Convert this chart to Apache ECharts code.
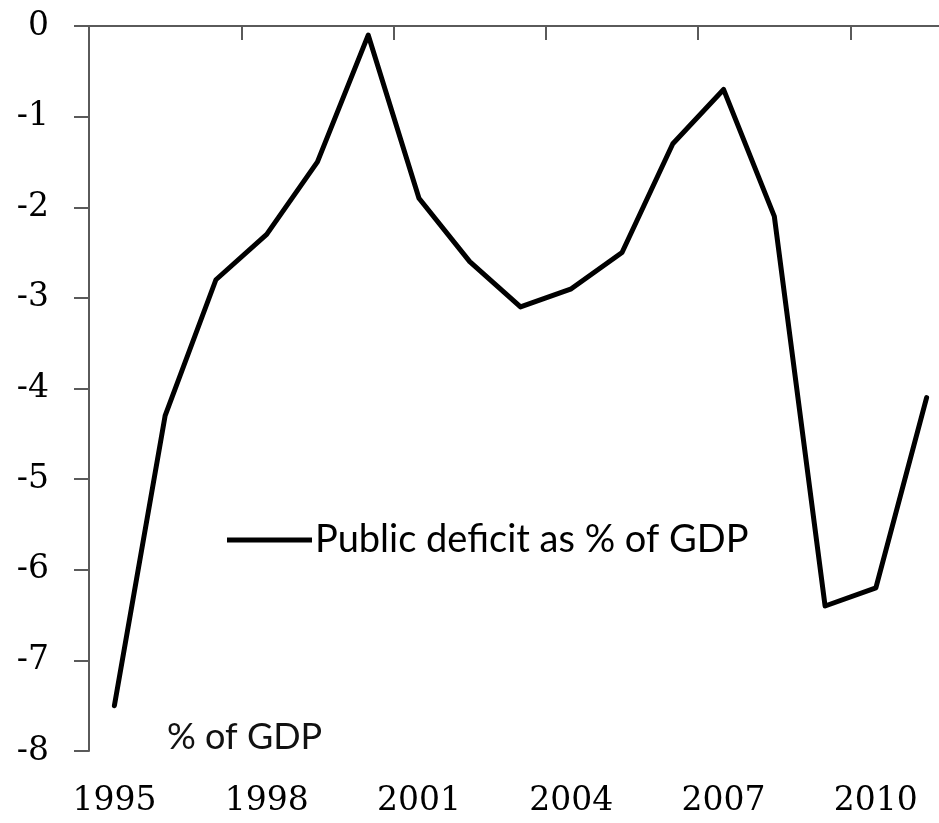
<!DOCTYPE html>
<html>
<head>
<meta charset="utf-8">
<script src="https://cdn.jsdelivr.net/npm/echarts@6/dist/echarts.min.js"></script>
<style>
  html, body { margin: 0; padding: 0; background: #fff; }
  #chart { width: 939px; height: 823px; }
</style>
</head>
<body>
<div id="chart"></div>
<script>
// Years on the horizontal axis
const years = ['1995','1996','1997','1998','1999','2000','2001','2002','2003',
               '2004','2005','2006','2007','2008','2009','2010','2011'];
// Public deficit, % of GDP
const deficit = [-7.5, -4.3, -2.8, -2.3, -1.5, -0.1, -1.9, -2.6, -3.1,
                 -2.9, -2.5, -1.3, -0.7, -2.1, -6.4, -6.2, -4.1];
const seriesName = 'Public deficit as % of GDP';
const unitLabel = '% of GDP';

const axisColor = '#5a5a5a';
const numFont = 'DejaVu Serif';
const textFont = 'Lato';

const chart = echarts.init(document.getElementById('chart'), null, { renderer: 'canvas' });

chart.setOption({
  backgroundColor: '#ffffff',
  animation: false,
  // the last category runs a little past the right edge of the canvas
  grid: { left: 89, top: 26, width: 863, height: 725, containLabel: false, outerBoundsMode: 'none' },
  title: {
    text: unitLabel,
    left: 162, top: 714,
    textStyle: { fontFamily: textFont, fontSize: 36, fontWeight: 'normal', color: '#111' }
  },
  legend: {
    data: [seriesName],
    left: 222, top: 516,
    icon: 'rect',
    itemWidth: 85, itemHeight: 5, itemGap: 0,
    textStyle: { fontFamily: textFont, fontSize: 38, fontWeight: 'normal', color: '#000', padding: [0, 0, 0, -2] }
  },
  xAxis: [
    {
      // baseline along the zero line, ticks hanging into the plot
      type: 'category', data: years, position: 'top', boundaryGap: true,
      axisLine: { show: true, lineStyle: { color: axisColor, width: 2 } },
      axisTick: { show: true, inside: true, interval: 2, length: 14, lineStyle: { color: axisColor, width: 2 } },
      axisLabel: { show: false },
      splitLine: { show: false }
    },
    {
      // year labels along the bottom
      type: 'category', data: years, position: 'bottom', boundaryGap: true,
      axisLine: { show: false }, axisTick: { show: false },
      axisLabel: { show: true, interval: 2, margin: 34, fontFamily: numFont, fontSize: 33, color: '#000' },
      splitLine: { show: false }
    }
  ],
  yAxis: {
    type: 'value', min: -8, max: 0, interval: 1,
    axisLine: { show: true, lineStyle: { color: axisColor, width: 2 } },
    axisTick: { show: true, inside: false, length: 15, lineStyle: { color: axisColor, width: 2 } },
    axisLabel: { margin: 40, fontFamily: numFont, fontSize: 33, color: '#000' },
    splitLine: { show: false }
  },
  series: [{
    name: seriesName,
    type: 'line',
    xAxisIndex: 0,
    data: deficit,
    showSymbol: false,
    lineStyle: { color: '#000', width: 5, join: 'round', cap: 'round' },
    itemStyle: { color: '#000' }
  }]
});
</script>
</body>
</html>
